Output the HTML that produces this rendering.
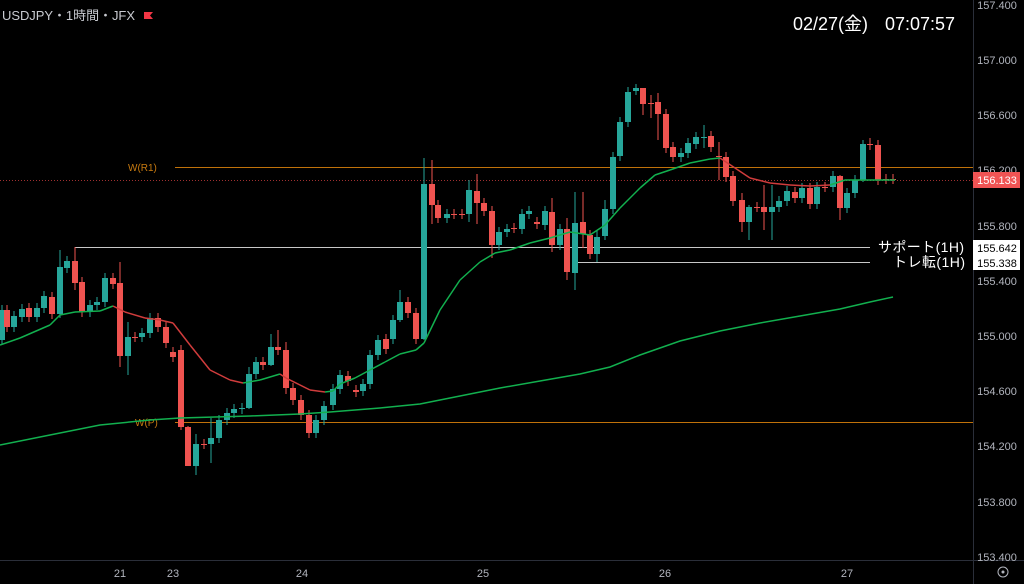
<!DOCTYPE html>
<html><head><meta charset="utf-8"><style>
html,body{margin:0;padding:0;background:#000;width:1024px;height:584px;overflow:hidden}
svg{display:block;font-family:"Liberation Sans","Noto Sans CJK JP",sans-serif}
</style></head><body>
<svg id="c" width="1024" height="584" viewBox="0 0 1024 584" xmlns="http://www.w3.org/2000/svg">
<rect width="1024" height="584" fill="#000"/>
<line x1="973.5" y1="0" x2="973.5" y2="584" stroke="#2a2e39"/>
<line x1="0" y1="560.5" x2="1024" y2="560.5" stroke="#2a2e39"/>
<g font-size="11" fill="#b2b5be" text-anchor="middle">
<text x="997" y="9">157.400</text>
<text x="997" y="64">157.000</text>
<text x="997" y="119">156.600</text>
<text x="997" y="174">156.200</text>
<text x="997" y="230">155.800</text>
<text x="997" y="285">155.400</text>
<text x="997" y="340">155.000</text>
<text x="997" y="395">154.600</text>
<text x="997" y="450">154.200</text>
<text x="997" y="506">153.800</text>
<text x="997" y="561">153.400</text>
<text x="120" y="577">21</text><text x="173" y="577">23</text><text x="302" y="577">24</text>
<text x="483" y="577">25</text><text x="665" y="577">26</text><text x="847" y="577">27</text>
</g>
<circle cx="1003" cy="572" r="5" fill="none" stroke="#b2b5be"/><circle cx="1003" cy="572" r="1.5" fill="#b2b5be"/>
<line x1="175" y1="167.5" x2="973" y2="167.5" stroke="#c0720a"/>
<text x="128" y="171" font-size="10" fill="#c77a10">W(R1)</text>
<line x1="175" y1="422.5" x2="973" y2="422.5" stroke="#c0720a"/>
<text x="135" y="426" font-size="10" fill="#c77a10">W(P)</text>
<line x1="0" y1="180.5" x2="973" y2="180.5" stroke="#a03030" stroke-dasharray="1,2"/>
<line x1="75" y1="247.5" x2="870" y2="247.5" stroke="#c8c8c8"/>
<line x1="75" y1="247" x2="75" y2="258" stroke="#c8c8c8"/>
<line x1="575" y1="262.5" x2="870" y2="262.5" stroke="#c8c8c8"/>
<line x1="575" y1="246" x2="575" y2="263" stroke="#c8c8c8"/>
<g id="cd"></g>
<g font-size="14" fill="#fff"><text x="878" y="252" textLength="86">サポート(1H)</text><text x="893" y="267" textLength="72">トレ転(1H)</text></g>
<rect x="973" y="240" width="47" height="15" fill="#fff"/><text x="997" y="252" font-size="11" fill="#000" text-anchor="middle">155.642</text>
<rect x="973" y="255" width="47" height="15" fill="#fff"/><text x="997" y="267" font-size="11" fill="#000" text-anchor="middle">155.338</text>
<rect x="973" y="172" width="47" height="16" fill="#f05454"/><text x="997" y="184" font-size="11" fill="#fff" text-anchor="middle">156.133</text>
<text x="2" y="20" font-size="13" fill="#c8cad0" textLength="133">USDJPY・1時間・JFX</text>
<path d="M144 12h9l-3 3.5 3 3.5h-9z" fill="#f23645"/>
<text x="793" y="30" font-size="18" fill="#fff">02/27(金)</text>
<text x="885" y="30" font-size="18" fill="#fff">07:07:57</text>
</svg>
<script>
const D=[[2,340,310],[7,310,327],[14,327,316],[22,317,309],[29,308,317],[37,317,308],[44,308,296],[52,297,314],[60,314,267],[67,268,261],[75,261,283],[82,282,312],[90,312,305],[97,305,302],[105,302,278],[113,278,284],[120,283,356],[128,356,337],[135,337,337],[142,337,333],[150,333,318],[158,318,327],[166,327,343],[173,352,357],[181,350,427],[188,427,466],[196,466,444],[204,444,444],[211,444,438],[219,438,420],[227,420,413],[234,413,409],[242,409,408],[249,408,374],[256,374,362],[263,362,365],[271,365,347],[278,347,350],[286,350,388],[293,388,400],[301,400,415],[309,415,433],[316,433,420],[324,420,406],[333,405,389],[340,389,375],[348,376,381],[356,390,392],[363,391,384],[370,384,355],[378,355,340],[386,339,349],[393,339,320],[400,320,302],[408,302,313],[416,313,339],[424,339,184],[432,184,205],[438,205,218],[447,218,214],[454,214,214],[462,214,214],[469,214,190],[477,191,203],[484,203,211],[492,211,245],[499,245,232],[507,232,229],[514,228,228],[522,229,214],[529,214,211],[537,222,224],[545,225,211],[552,212,245],[560,245,229],[567,229,272],[575,273,223],[583,222,234],[590,235,254],[597,254,237],[605,236,209],[613,209,157],[620,156,122],[628,122,92],[636,91,88],[643,88,104],[651,103,103],[658,102,114],[666,114,148],[673,147,157],[681,157,153],[688,153,143],[696,144,137],[704,138,137],[711,136,147],[719,156,157],[726,157,177],[733,176,201],[742,200,222],[749,222,207],[757,207,207],[764,207,212],[772,212,207],[779,207,201],[787,201,191],[795,192,198],[802,198,188],[810,188,204],[817,204,187],[825,187,187],[833,187,176],[840,176,208],[847,208,193],[855,193,180],[863,180,144],[870,144,145],[878,145,180],[886,179,179],[893,179,179]];
const W={60:[250,318],75:[247,290],120:[262,367],128:[322,375],181:[345,430],188:[426,466],196:[434,475],211:[418,463],249:[367,409],271:[334,366],278:[330,355],286:[342,394],424:[158,340],432:[160,224],400:[290,322],469:[180,222],477:[174,224],492:[206,258],552:[198,252],567:[218,280],575:[192,290],583:[192,248],597:[230,262],605:[200,240],628:[87,127],636:[84,95],643:[88,115],651:[95,118],658:[93,140],704:[125,148],719:[142,180],742:[193,232],749:[205,240],764:[185,230],772:[185,240],840:[175,220],863:[140,182],870:[138,150]};
let s='';
for(const [x,o,c] of D){const up=c<o,col=up?'#26a69a':'#ef5350';const t=Math.min(o,c),b=Math.max(o,c);
let w=W[x]||[t-5,b+5];s+=`<line x1="${x}" y1="${w[0]}" x2="${x}" y2="${w[1]}" stroke="${col}"/>`;
s+=`<rect x="${x-3}" y="${t}" width="6" height="${Math.max(1,b-t)}" fill="${col}"/>`;}
const L=[[0,445],[50,435],[100,425],[150,420],[180,418],[250,416],[300,414],[330,412],[380,408],[420,404],[460,396],[500,388],[540,381],[580,374],[610,367],[640,355],[680,341],[720,331],[760,323],[800,316],[840,309],[870,302],[893,297]];
s+=`<polyline points="${L.join(' ')}" fill="none" stroke="#12b04f" stroke-width="1.5"/>`;
const S=[[0,345],[20,338],[50,325],[60,315],[75,312],[100,311],[113,306],[125,312],[145,318],[160,320],[173,323],[190,345],[210,370],[230,380],[243,383],[260,380],[280,374],[286,378],[310,390],[325,392],[333,391],[340,384],[355,378],[370,370],[385,362],[400,354],[416,350],[424,343],[440,310],[460,280],[480,262],[495,253],[510,250],[530,243],[550,238],[570,232],[590,235],[605,225],[620,208],[640,188],[655,175],[670,170],[690,163],[710,159],[720,158],[735,168],[750,178],[770,183],[790,185],[810,186],[830,185],[845,180],[855,180],[895,180]];
const red=x=>(x>113&&x<243)||(x>280&&x<325)||(x>720&&x<830);
for(let i=0;i<S.length-1;i++){const a=S[i],b=S[i+1];s+=`<line x1="${a[0]}" y1="${a[1]}" x2="${b[0]}" y2="${b[1]}" stroke="${red((a[0]+b[0])/2)?'#d03c3c':'#12b04f'}" stroke-width="1.5"/>`;}
document.getElementById('cd').innerHTML=s;
</script>
</body></html>
